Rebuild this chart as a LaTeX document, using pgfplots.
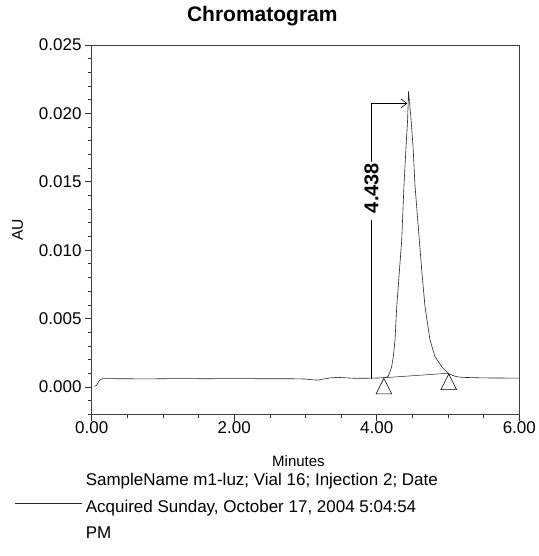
\documentclass[border=0pt]{standalone}
\usepackage{pgfplots}
\pgfplotsset{compat=1.18}
\usetikzlibrary{arrows.meta}
\usepackage{fontspec}
\setmainfont{Liberation Sans}
\pgfdeclareplotmark{apextri}{%
  \pgfpathmoveto{\pgfpoint{0pt}{0pt}}%
  \pgfpathlineto{\pgfpoint{-7.8pt}{-15.5pt}}%
  \pgfpathlineto{\pgfpoint{7.8pt}{-15.5pt}}%
  \pgfpathclose
  \pgfusepathqstroke}
\begin{document}
\begin{tikzpicture}
\useasboundingbox (-91.7pt,-141.7pt) rectangle (446.3pt,414.3pt);
\begin{axis}[
  at={(0pt,0pt)}, anchor=south west,
  scale only axis, width=427.6pt, height=369.3pt,
  xmin=0, xmax=6, ymin=-0.002, ymax=0.025,
  xtick={0,2,4,6},
  minor xtick={0.5,1,1.5,2.5,3,3.5,4.5,5,5.5},
  ytick={0,0.005,0.010,0.015,0.020,0.025},
  minor ytick={-0.002,-0.001,0.001,0.002,0.003,0.004,0.006,0.007,0.008,0.009,0.011,0.012,0.013,0.014,0.016,0.017,0.018,0.019,0.021,0.022,0.023,0.024},
  scaled y ticks=false,
  xtick pos=bottom, ytick pos=left,
  tick align=outside,
  major tick length=7pt, minor tick length=4pt,
  every tick/.style={black!80, line width=0.7pt},
  axis line style={black!75, line width=0.8pt},
  /pgf/number format/assume math mode=true,
  every tick label/.append style={font=\fontsize{17}{20}\selectfont},
  xticklabel style={inner sep=0pt, /pgf/number format/.cd, fixed, fixed zerofill, precision=2},
  yticklabel style={inner sep=3pt, /pgf/number format/.cd, fixed, fixed zerofill, precision=3},
  title={Chromatogram},
  title style={font=\fontsize{21}{24}\selectfont\bfseries, at={(axis description cs:0.399,1.0487)}, anchor=base},
  xlabel={Minutes},
  xlabel style={font=\fontsize{15}{18}\selectfont, at={(axis description cs:0.4836,-0.14)}, anchor=base},
  ylabel={AU},
  ylabel style={font=\fontsize{15.5}{18}\selectfont, at={(axis description cs:-0.173,0.5)}, anchor=center},
  legend style={at={(axis description cs:-0.1794,-0.2050)}, anchor=west, draw=none, fill=none, inner sep=0pt,
    font=\fontsize{17}{26.5}\selectfont, nodes={inner sep=3pt}},
  legend cell align=left,
  legend image code/.code={\draw[#1] (0pt,-13pt) -- (67pt,-13pt);},
]
% chromatogram trace
\addplot[black!85, line width=0.6pt] coordinates {
(0.04,0.00005) (0.07,0.00012) (0.10,0.00040) (0.13,0.00056) (0.16,0.00061)
(0.40,0.00060) (0.80,0.00059) (1.20,0.00061) (1.60,0.00060) (2.00,0.00061)
(2.40,0.00060) (2.80,0.00060) (3.00,0.00058) (3.10,0.00052) (3.18,0.00050)
(3.25,0.00058) (3.35,0.00066) (3.45,0.00070) (3.55,0.00067) (3.70,0.00063)
(3.90,0.00064) (4.05,0.00066) (4.10,0.00068) (4.157,0.00075) (4.185,0.0011)
(4.209,0.00148) (4.232,0.00221) (4.256,0.00343) (4.280,0.00586) (4.315,0.0083)
(4.350,0.01074) (4.382,0.01476) (4.410,0.0175) (4.434,0.01964) (4.445,0.0216)
(4.480,0.01964) (4.510,0.0175) (4.536,0.01476) (4.597,0.01074) (4.635,0.0083)
(4.677,0.00586) (4.747,0.00343) (4.817,0.00221) (4.911,0.00148) (4.981,0.00111)
(5.01,0.00098) (5.06,0.00085) (5.12,0.00075) (5.20,0.00070) (5.50,0.00066)
(5.80,0.00065) (6.00,0.00065)
};
\addlegendentry{\begin{tabular}[c]{@{}l@{}}SampleName m1-luz; Vial 16; Injection 2; Date\\Acquired Sunday, October 17, 2004 5:04:54\\PM\end{tabular}}
% integration baseline
\addplot[black!85, line width=0.5pt, forget plot] coordinates {(4.12,0.00068) (5.00,0.00100)};
% peak start / end markers
\addplot[only marks, mark=apextri, mark options={black, line width=0.6pt}, forget plot] coordinates {(4.10,0.00063) (5.01,0.00094)};
% retention time annotation
\addplot[black, line width=1.6pt, forget plot] coordinates {(3.925,0.00058) (3.925,0.0122)};
\addplot[black, line width=0.6pt, forget plot, -{Straight Barb[length=6pt,width=9pt]}] coordinates {(3.925,0.01646) (3.925,0.02073) (4.43,0.02073)};
\node[rotate=90, font=\fontsize{20}{24}\selectfont\bfseries] at (axis cs:3.925,0.01454) {4.438};
\end{axis}
\end{tikzpicture}
\end{document}
